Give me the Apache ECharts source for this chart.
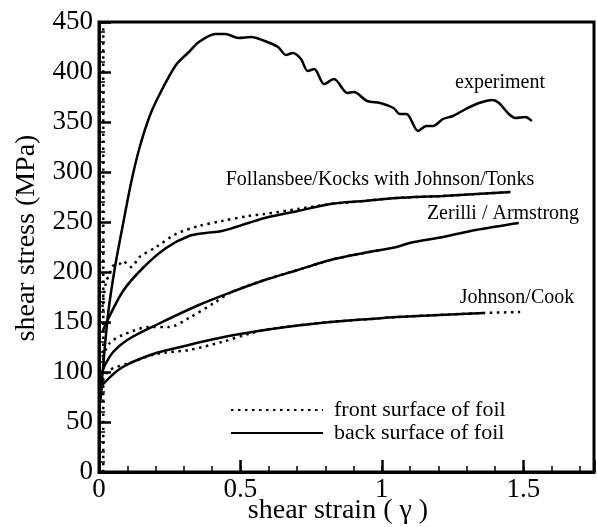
<!DOCTYPE html>
<html>
<head>
<meta charset="utf-8">
<script src="https://cdn.jsdelivr.net/npm/echarts@6/dist/echarts.min.js"></script>
<style>
html,body{margin:0;padding:0;background:#fff;}
#chart{width:597px;height:527px;}
</style>
</head>
<body>
<div id="chart"></div>
<script>
// ---- data (shear strain, shear stress MPa) ----
var experiment = [[0.005,70],[0.014,104],[0.033,160],[0.056,204],[0.085,248],[0.114,290],[0.143,324],[0.178,355],[0.213,377],[0.272,407],[0.318,420],[0.353,430],[0.412,438],[0.447,438],[0.493,434],[0.538,435],[0.586,431],[0.633,425],[0.661,417],[0.685,419],[0.714,413],[0.738,401],[0.761,403],[0.796,388],[0.831,393],[0.878,379],[0.901,380],[0.948,371],[0.994,369],[1.041,364],[1.064,358],[1.087,358],[1.128,341],[1.157,346],[1.181,346],[1.216,353],[1.251,356],[1.297,363],[1.344,369],[1.391,372],[1.414,369],[1.449,358],[1.472,354],[1.507,355],[1.530,351]];

var follansbeeBack = [[0.012,140],[0.027,150],[0.085,181],[0.155,204],[0.237,224],[0.318,236],[0.377,239],[0.435,241],[0.528,249],[0.586,254],[0.703,261],[0.818,268],[0.936,271],[1.052,274],[1.216,276],[1.455,280]];
var follansbeeFront = [[0.012,165],[0.025,190],[0.038,198],[0.049,206],[0.073,208],[0.084,211],[0.100,208],[0.114,205],[0.143,215],[0.202,225],[0.272,238],[0.353,246],[0.435,251],[0.528,256],[0.586,258],[0.703,263],[0.818,268],[0.936,271],[1.052,274],[1.216,276],[1.455,280]];

var zerilliBack = [[0.012,100],[0.021,107],[0.05,120],[0.1,132],[0.202,147],[0.353,167],[0.469,180],[0.586,192],[0.703,202],[0.818,212],[0.936,219],[1.052,225],[1.098,229],[1.216,235],[1.332,242],[1.484,249]];
var zerilliFront = [[0.012,115],[0.038,129],[0.084,137],[0.178,145],[0.248,145],[0.318,154],[0.412,170],[0.469,180],[0.586,192],[0.703,202],[0.818,212],[0.936,219],[1.0,222]];

var johnsonBack = [[0.008,82],[0.015,88],[0.084,105],[0.202,119],[0.318,127],[0.353,129.5],[0.469,136.5],[0.586,142],[0.703,146.5],[0.818,150],[0.983,153.5],[1.052,155],[1.36,159]];
var johnsonFront = [[0.012,92],[0.038,102],[0.108,109],[0.202,118],[0.318,122],[0.434,130],[0.528,138],[0.586,142],[0.703,146.5],[0.818,150],[0.983,153.5],[1.052,155],[1.36,159],[1.489,160]];

var frontAxis = [[0.015,0],[0.015,450]];

var yTicks = [0,50,100,150,200,250,300,350,400,450];
var xLabels = ['0','0.5','1','1.5'];

var FRONT = 'front surface of foil';
var BACK = 'back surface of foil';
var FONT = '"Liberation Serif","Times New Roman",serif';

function solid(data, name){
  return {type:'line', name:name, data:data, xAxisIndex:0, yAxisIndex:0,
    symbol:'none', smooth:0.3, silent:true, animation:false, color:'#000',
    lineStyle:{color:'#000', width:2.5, type:'solid'}, z:3};
}
function dotted(data, name){
  return {type:'line', name:name, data:data, xAxisIndex:0, yAxisIndex:0,
    symbol:'none', smooth:0.3, silent:true, animation:false, color:'#000',
    lineStyle:{color:'#000', width:2.5, type:[2.5,4.5]}, z:3};
}

var chart = echarts.init(document.getElementById('chart'), null, {renderer:'canvas'});
chart.setOption({
  backgroundColor:'#fff',
  animation:false,
  grid:{left:99, top:22, right:-3, bottom:55, show:true, borderColor:'#000', borderWidth:3, backgroundColor:'transparent'},
  legend:{
    data:[FRONT, BACK], orient:'vertical', left:225, top:394,
    itemWidth:92, itemHeight:12, itemGap:1,
    itemStyle:{color:'rgba(0,0,0,0)', borderColor:'rgba(0,0,0,0)', borderWidth:0, opacity:0},
    textStyle:{fontFamily:FONT, fontSize:22, color:'#000', padding:[0,0,0,6]},
    selectedMode:false
  },
  xAxis:[
    {type:'value', min:0, max:1.75, interval:0.1, position:'bottom',
     axisLine:{show:true, onZero:false, lineStyle:{color:'#000', width:3}},
     axisTick:{show:true, inside:true, length:6, lineStyle:{color:'#000', width:1.5}},
     axisLabel:{show:false}, splitLine:{show:false}},
    {type:'value', min:0, max:1.75, interval:0.5, position:'bottom',
     axisLine:{show:false, onZero:false},
     axisTick:{show:true, inside:true, length:12, lineStyle:{color:'#000', width:2.5}},
     axisLabel:{show:true, margin:4, fontFamily:FONT, fontSize:27, color:'#000',
       formatter:function(v){ var i = Math.round(v*2); return (Math.abs(v*2-i)<1e-6 && i<xLabels.length) ? xLabels[i] : ''; }},
     splitLine:{show:false}}
  ],
  yAxis:[
    {type:'value', min:0, max:450, interval:50,
     axisLine:{show:true, onZero:false, lineStyle:{color:'#000', width:3}},
     axisTick:{show:true, inside:true, length:12, lineStyle:{color:'#000', width:2.5}},
     minorTick:{show:true, splitNumber:5, length:6, lineStyle:{color:'#000', width:1.5}},
     axisLabel:{show:true, margin:6, fontFamily:FONT, fontSize:27, color:'#000',
       formatter:function(v){ var i = yTicks.indexOf(Math.round(v)); return i>=0 ? String(yTicks[i]) : ''; }},
     splitLine:{show:false}}
  ],
  graphic:[
    {type:'text', x:27, y:238, rotation:Math.PI/2, style:{text:'shear stress (MPa)', font:'28px '+FONT, fill:'#000', textAlign:'center', textVerticalAlign:'middle'}},
    {type:'text', x:338, y:511, style:{text:'shear strain ( \u03b3 )', font:'28px '+FONT, fill:'#000', textAlign:'center', textVerticalAlign:'middle'}},
    {type:'text', x:500, y:83, style:{text:'experiment', font:'20px '+FONT, fill:'#000', textAlign:'center', textVerticalAlign:'middle'}},
    {type:'text', x:380, y:180, style:{text:'Follansbee/Kocks with Johnson/Tonks', font:'20px '+FONT, fill:'#000', textAlign:'center', textVerticalAlign:'middle'}},
    {type:'text', x:503, y:214, style:{text:'Zerilli / Armstrong', font:'20px '+FONT, fill:'#000', textAlign:'center', textVerticalAlign:'middle'}},
    {type:'text', x:517, y:298, style:{text:'Johnson/Cook', font:'20px '+FONT, fill:'#000', textAlign:'center', textVerticalAlign:'middle'}}
  ],
  series:[
    dotted(frontAxis, FRONT),
    dotted(follansbeeFront, FRONT),
    dotted(zerilliFront, FRONT),
    dotted(johnsonFront, FRONT),
    solid(experiment, BACK),
    solid(follansbeeBack, BACK),
    solid(zerilliBack, BACK),
    solid(johnsonBack, BACK)
  ]
});
</script>
</body>
</html>
